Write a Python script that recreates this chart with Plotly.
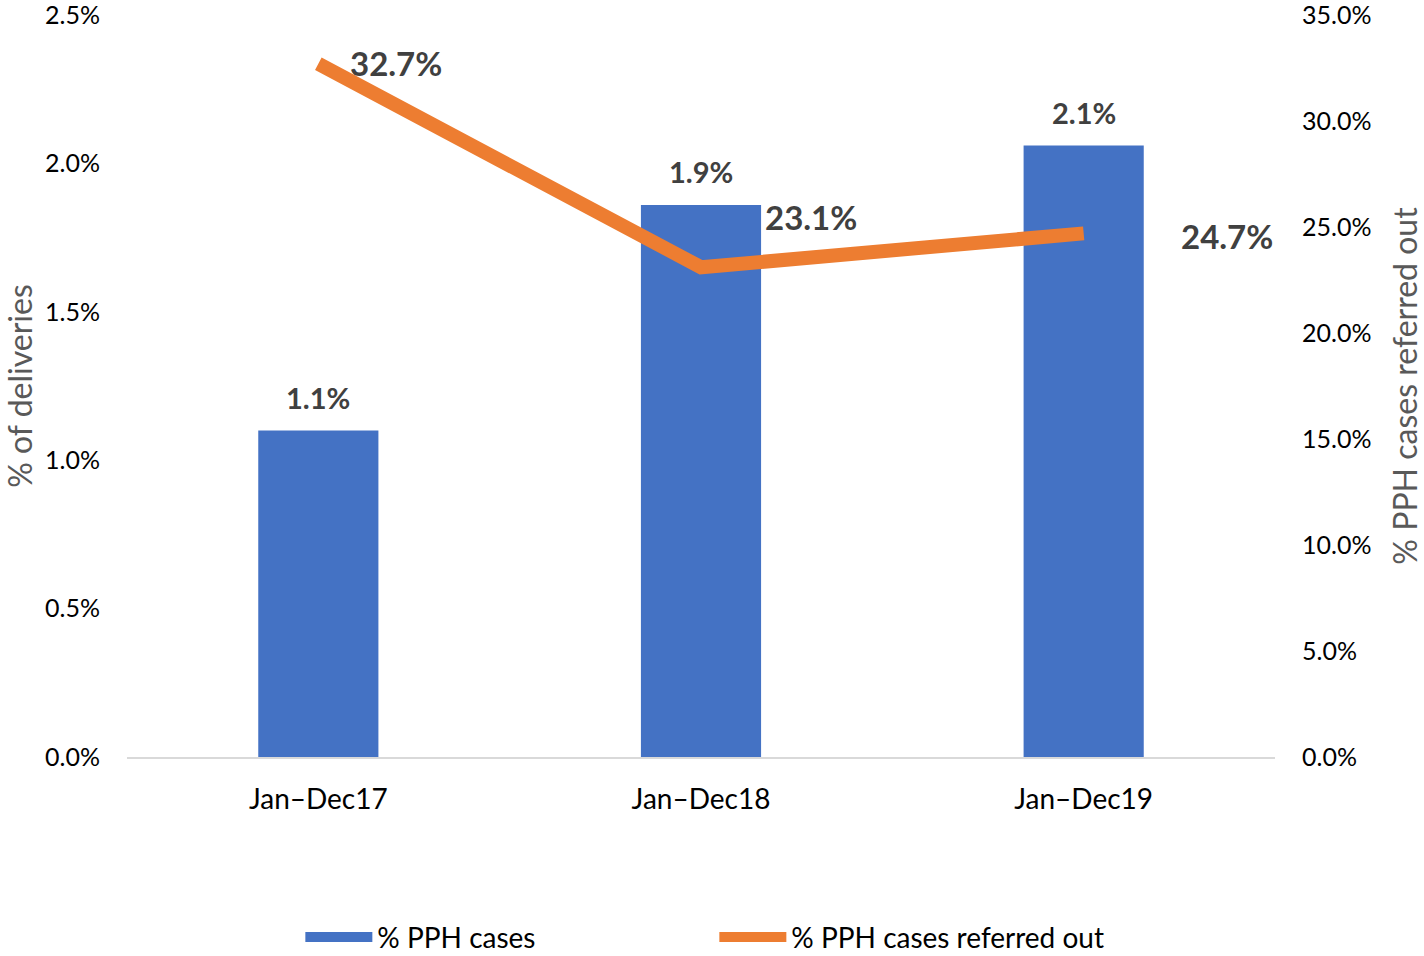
import plotly.graph_objects as go

categories = ["Jan–Dec17", "Jan–Dec18", "Jan–Dec19"]
pph_cases = [1.1, 1.86, 2.06]          # % of deliveries
pph_referred = [32.7, 23.1, 24.7]      # % PPH cases referred out
bar_labels = ["1.1%", "1.9%", "2.1%"]
line_labels = ["32.7%", "23.1%", "24.7%"]
left_ticks = [0, 0.5, 1.0, 1.5, 2.0, 2.5]
right_ticks = [0, 5, 10, 15, 20, 25, 30, 35]

FONT = "Lato, Carlito, Calibri, sans-serif"
BLUE = "#4472C4"
ORANGE = "#ED7D31"
LABEL = "#404040"

fig = go.Figure()
fig.add_trace(go.Bar(
    x=categories, y=pph_cases, name="% PPH cases",
    marker=dict(color=BLUE, line=dict(width=0)),
    yaxis="y", hoverinfo="skip", showlegend=False,
))
fig.add_trace(go.Scatter(
    x=categories, y=pph_referred, name="% PPH cases referred out",
    mode="lines", line=dict(color=ORANGE, width=14),
    yaxis="y2", hoverinfo="skip", showlegend=False,
))
# legend keys (Excel-style wide swatches)
fig.add_trace(go.Scatter(x=[None], y=[None], name="% PPH cases", mode="lines",
                         line=dict(color=BLUE, width=20), showlegend=True))
fig.add_trace(go.Scatter(x=[None], y=[None], name="% PPH cases referred out", mode="lines",
                         line=dict(color=ORANGE, width=15), yaxis="y2", showlegend=True))

annotations = []
for c, v, t in zip(categories, pph_cases, bar_labels):
    annotations.append(dict(x=c, y=v, xref="x", yref="y", text=f"<b>{t}</b>",
                            showarrow=False, yanchor="middle", yshift=33,
                            font=dict(family=FONT, size=29, color=LABEL)))
line_shifts = [(30, 1), (62, 50), (95, -3)]
for c, v, t, (dx, dy) in zip(categories, pph_referred, line_labels, line_shifts):
    annotations.append(dict(x=c, y=v, xref="x", yref="y2", text=f"<b>{t}</b>",
                            showarrow=False, xanchor="left", yanchor="middle",
                            xshift=dx, yshift=dy,
                            font=dict(family=FONT, size=33, color=LABEL)))

fig.update_layout(
    width=1424, height=956,
    margin=dict(l=127, r=149, t=15, b=199, autoexpand=False),
    paper_bgcolor="white", plot_bgcolor="white",
    font=dict(family=FONT, size=25, color="#000000"),
    bargap=0.686,
    showlegend=True,
    legend=dict(orientation="h", x=0.151, xanchor="left", y=-0.243, yanchor="middle",
                font=dict(family=FONT, size=28, color="#000000"),
                entrywidth=332, itemwidth=67, traceorder="normal",
                bgcolor="rgba(0,0,0,0)"),
    xaxis=dict(showgrid=False, showline=True, linecolor="#D9D9D9", linewidth=2,
               ticks="", ticklabelstandoff=16, automargin=False,
               tickfont=dict(family=FONT, size=28, color="#000000")),
    yaxis=dict(range=[0, 2.5], tickvals=left_ticks,
               ticktext=[f"{v:.1f}%" for v in left_ticks],
               showgrid=False, zeroline=False, showline=False,
               ticklabelstandoff=26, automargin=False, ticklabeloverflow="allow",
               tickfont=dict(family=FONT, size=25, color="#000000"),
               title=dict(text="% of deliveries", standoff=6,
                          font=dict(family=FONT, size=32, color="#595959"))),
    yaxis2=dict(range=[0, 35], tickvals=right_ticks,
                ticktext=[f"{v:.1f}%" for v in right_ticks],
                overlaying="y", side="right",
                showgrid=False, zeroline=False, showline=False,
                ticklabelstandoff=26, automargin=False, ticklabeloverflow="allow",
                tickfont=dict(family=FONT, size=25, color="#000000"),
                title=dict(text="% PPH cases referred out", standoff=26,
                           font=dict(family=FONT, size=32, color="#595959"))),
    annotations=annotations,
)

fig.write_html("out.html",
               config={"displayModeBar": False},
               post_script="document.body.style.margin='0px';document.body.style.overflow='hidden';")
